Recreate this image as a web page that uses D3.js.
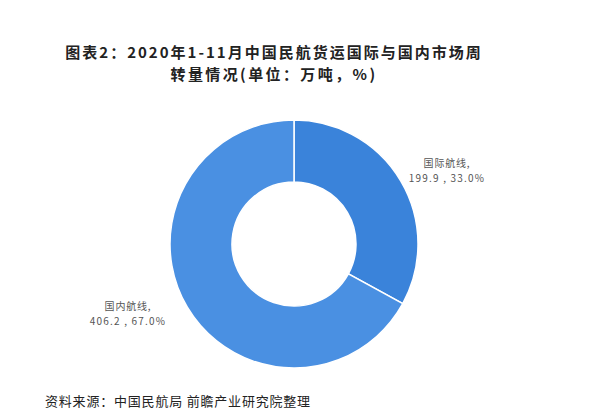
<!DOCTYPE html>
<html><head><meta charset="utf-8">
<script src="https://cdn.jsdelivr.net/npm/d3@7"></script>
<style>body{margin:0;background:#fff;}svg{display:block;}</style>
</head><body>
<svg id="c" width="600" height="418"></svg>
<script>
const categories = ["国际航线", "国内航线"];
const values = [199.9, 406.2];
const percents = ["33.0%", "67.0%"];
const colors = ["#3a83da", "#4a90e2"];
const titleLines = ["图表2：2020年1-11月中国民航货运国际与国内市场周", "转量情况(单位：万吨，%)"];
const source = "资料来源：中国民航局 前瞻产业研究院整理";

const svg = d3.select("#c");
const font = "'Noto Sans CJK SC', 'Noto Sans', sans-serif";

titleLines.forEach((t, i) => {
  svg.append("text").attr("text-anchor", "middle")
    .attr("x", 274).attr("y", 58 + i * 22)
    .attr("font-family", font).attr("font-weight", "bold").attr("font-size", 15)
    .attr("letter-spacing", i === 0 ? 2 : 2.4)
    .attr("fill", "#222").text(t);
});

const cx = 294, cy = 244, R = 124, r = 62;
const pie = d3.pie().sort(null).value(d => d.v);
const data = categories.map((c, i) => ({c, v: values[i], p: percents[i], col: colors[i]}));
const arcs = pie(data);
const arc = d3.arc().innerRadius(r).outerRadius(R);
const g = svg.append("g").attr("transform", `translate(${cx},${cy})`);
g.selectAll("path").data(arcs).enter().append("path")
  .attr("d", arc).attr("fill", d => d.data.col)
  .attr("stroke", "#fff").attr("stroke-width", 1.5);

const labelPos = [[447, 167], [128, 310]];
arcs.forEach((a, i) => {
  const t = svg.append("text").attr("text-anchor", "middle")
    .attr("font-family", font).attr("font-size", 10).attr("fill", "#555");
  t.append("tspan").attr("x", labelPos[i][0]).attr("y", labelPos[i][1])
    .attr("letter-spacing", 0.8).text(a.data.c + ",");
  t.append("tspan").attr("x", labelPos[i][0]).attr("y", labelPos[i][1] + 15)
    .attr("letter-spacing", 1.2)
    .text(d3.format(".1f")(a.data.v) + " , " + a.data.p);
});

svg.append("text").attr("x", 45).attr("y", 406)
  .attr("font-family", font).attr("font-size", 13).attr("fill", "#222")
  .attr("letter-spacing", 0.8)
  .text(source);
</script>
</body></html>
